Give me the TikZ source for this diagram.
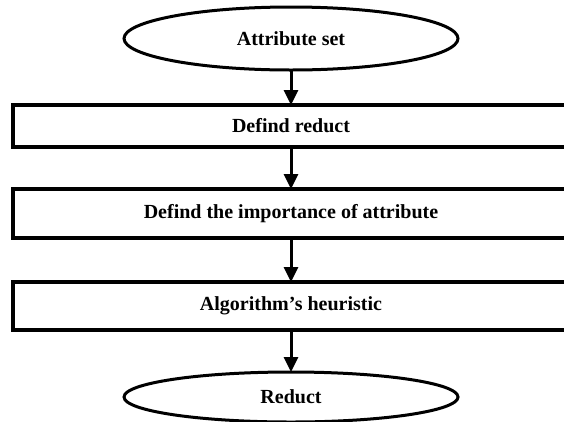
\documentclass[tikz,border=0pt]{standalone}
\usepackage{fontspec}
\setmainfont{Liberation Serif}
\usetikzlibrary{arrows.meta,positioning,shapes.geometric}

\begin{document}
\begin{tikzpicture}[
    x=1pt, y=1pt,
    lbl/.style={font=\fontsize{20}{24}\selectfont\bfseries},
    term/.style={draw, ellipse, line width=3pt, minimum width=334pt, minimum height=#1, inner sep=0pt, outer sep=0pt, lbl},
    stepbox/.style={draw, rectangle, line width=3.5pt, minimum width=556pt, minimum height=#1, inner sep=0pt, outer sep=0pt, lbl},
    arr/.style={-{Triangle[length=15pt, width=14pt]}, line width=3pt}
]
\useasboundingbox (0,0) rectangle (564,-421);
\node[term=63pt] (attr) at (291,-38.5) {Attribute set};
\node[stepbox=42pt, below=35pt of attr] (reduct) {Defind reduct};
\node[stepbox=49pt, below=42pt of reduct] (importance) {Defind the importance of attribute};
\node[stepbox=48pt, below=44pt of importance] (heuristic) {Algorithm's heuristic};
\node[term=50pt, below=42pt of heuristic] (result) {Reduct};

\draw[arr] (attr) -- (reduct);
\draw[arr] (reduct) -- (importance);
\draw[arr] (importance) -- (heuristic);
\draw[arr] (heuristic) -- (result);
\end{tikzpicture}
\end{document}
